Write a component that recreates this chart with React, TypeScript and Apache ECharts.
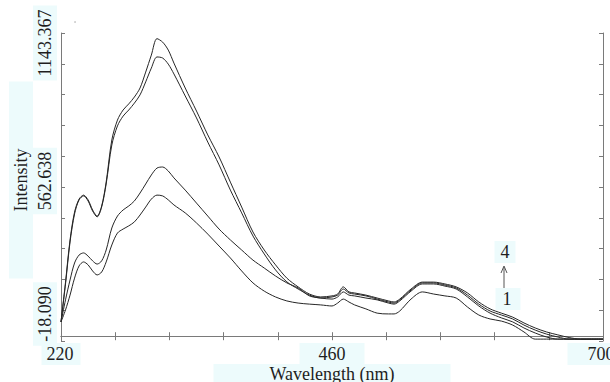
import React, { useEffect, useRef } from 'react';
import * as echarts from 'echarts';

// Wavelength grid (nm)
const wavelengths = [
  220, 224, 228, 232, 236, 240, 244, 248, 252, 256,
  260, 265, 270, 275, 280, 285, 290, 295, 300, 305,
  310, 315, 320, 330, 340, 350, 360, 370, 380, 390,
  400, 410, 420, 430, 440, 450, 460, 465, 470, 475,
  480, 490, 500, 510, 515, 520, 530, 540, 550, 560,
  570, 580, 590, 600, 610, 620, 630, 640, 650, 660,
  670, 680, 690, 700,
];

// Spectrum 1 (lowest)
const spectrum1 = [
  54, 99, 155, 219, 265, 280, 269, 246, 231, 242,
  280, 344, 389, 404, 416, 431, 457, 487, 517, 532,
  529, 514, 495, 465, 427, 385, 340, 295, 246, 201,
  170, 148, 133, 125, 121, 118, 114, 125, 140, 129,
  118, 103, 87, 84, 84, 95, 140, 167, 159, 152,
  144, 110, 80, 65, 57, 42, 16, -11, -11, -11,
  -11, -11, -11, -11,
];

// Spectrum 2
const spectrum2 = [
  54, 137, 212, 276, 306, 314, 302, 284, 272, 284,
  325, 408, 453, 476, 491, 510, 540, 574, 608, 634,
  638, 623, 597, 551, 502, 453, 404, 363, 325, 287,
  257, 227, 201, 182, 152, 144, 140, 148, 167, 155,
  152, 144, 137, 125, 121, 133, 170, 197, 197, 189,
  178, 148, 114, 87, 69, 54, 31, 12, -3, -11,
  -11, -11, -11, -11,
];

// Spectrum 3
const spectrum3 = [
  54, 197, 355, 461, 514, 529, 510, 472, 450, 487,
  574, 721, 793, 830, 853, 879, 910, 959, 1011, 1053,
  1049, 1026, 989, 906, 823, 732, 646, 551, 465, 378,
  310, 250, 205, 178, 155, 144, 148, 155, 178, 163,
  159, 152, 140, 129, 125, 137, 174, 201, 201, 193,
  182, 155, 121, 95, 80, 65, 42, 23, 8, -3,
  -11, -11, -11, -11,
];

// Spectrum 4 (highest)
const spectrum4 = [
  54, 204, 363, 468, 517, 532, 514, 476, 453, 491,
  581, 740, 815, 853, 876, 902, 936, 996, 1060, 1122,
  1109, 1079, 1030, 936, 849, 759, 676, 581, 487, 393,
  325, 269, 219, 186, 159, 148, 152, 159, 186, 167,
  163, 155, 144, 133, 129, 140, 178, 204, 204, 197,
  186, 163, 129, 103, 87, 72, 50, 31, 16, 5,
  -5, -11, -11, -11,
];

const xMin = 220;
const xMax = 700;
const xInterval = 48;
const xLabelValues = [220, 460, 700];
const xTickLabels = ['220', '460', '700'];

const yMin = -18.09;
const yMax = 1143.367;
const yTickLabels = ['-18.090', '562.638', '1143.367'];

const xName = 'Wavelength (nm)';
const yName = 'Intensity';
const arrowLabels = ['1', '4'];

const CYAN = '#edfbfc';
const FONT_FAMILY = '"Liberation Serif", "DejaVu Serif", serif';
const FONT = '18px ' + FONT_FAMILY;
const TEXT_COLOR = '#1e1e1e';
const AXIS_COLOR = '#7a7a7a';
const LINE_COLOR = '#262626';

export default function App() {
  const ref = useRef<HTMLDivElement>(null);

  useEffect(() => {
    document.body.style.margin = '0';
    const chart = echarts.init(ref.current as HTMLDivElement, null, { renderer: 'svg' });

    const series = [spectrum1, spectrum2, spectrum3, spectrum4].map((s, k) => ({
      type: 'line',
      name: 'S' + (k + 1),
      data: wavelengths.map((w, i) => [w, s[i]]),
      showSymbol: false,
      smooth: 0.3,
      lineStyle: { color: LINE_COLOR, width: 1 },
      xAxisIndex: 0,
      yAxisIndex: 0,
    }));

    const yInterval = (yMax - yMin) / 10;

    const tickStyle = { show: true, inside: true, length: 4, lineStyle: { color: AXIS_COLOR } };
    const lineStyle = { show: true, lineStyle: { color: AXIS_COLOR, width: 1 } };

    const ySlots = [314, 181, 43];

    const option: any = {
      animation: false,
      backgroundColor: '#ffffff',
      grid: { left: 61, right: 7, top: 33, bottom: 41, containLabel: false, outerBoundsMode: 'none' },
      xAxis: [
        {
          type: 'value',
          min: xMin,
          max: xMax,
          interval: xInterval,
          position: 'bottom',
          axisLine: lineStyle,
          axisTick: tickStyle,
          splitLine: { show: false },
          axisLabel: {
            margin: 2,
            color: TEXT_COLOR,
            fontSize: 18,
            fontFamily: FONT_FAMILY,
            hideOverlap: false,
            formatter: (v: number) => {
              const i = xLabelValues.indexOf(Math.round(v));
              return i < 0 ? '' : '{p' + i + '|' + xTickLabels[i] + '}';
            },
            rich: {
              p0: { backgroundColor: CYAN, padding: [2, 7, 2, 5], fontSize: 18, fontFamily: FONT_FAMILY, color: TEXT_COLOR },
              p1: { backgroundColor: CYAN, padding: [2, 19, 2, 19], fontSize: 18, fontFamily: FONT_FAMILY, color: TEXT_COLOR },
              p2: { backgroundColor: CYAN, padding: [2, 24, 2, 20], fontSize: 18, fontFamily: FONT_FAMILY, color: TEXT_COLOR },
            },
          },
          name: xName,
          nameLocation: 'middle',
          nameGap: 23,
          nameMoveOverlap: false,
          nameTextStyle: {
            color: TEXT_COLOR,
            fontSize: 18,
            fontFamily: FONT_FAMILY,
            backgroundColor: CYAN,
            padding: [1, 56, 1, 56],
          },
        },
        {
          type: 'value',
          min: xMin,
          max: xMax,
          interval: xInterval,
          position: 'top',
          axisLine: lineStyle,
          axisTick: tickStyle,
          splitLine: { show: false },
          axisLabel: { show: false },
        },
      ],
      yAxis: [
        {
          type: 'value',
          min: yMin,
          max: yMax,
          interval: yInterval,
          position: 'left',
          axisLine: lineStyle,
          axisTick: tickStyle,
          splitLine: { show: false },
          axisLabel: { show: false },
        },
        {
          type: 'value',
          min: yMin,
          max: yMax,
          interval: yInterval,
          position: 'right',
          axisLine: lineStyle,
          axisTick: tickStyle,
          splitLine: { show: false },
          axisLabel: { show: false },
        },
      ],
      series,
      graphic: [
        {
          type: 'text',
          x: 21,
          y: 180,
          rotation: Math.PI / 2,
          style: {
            text: yName,
            font: FONT,
            fill: TEXT_COLOR,
            align: 'center',
            verticalAlign: 'middle',
            backgroundColor: CYAN,
            padding: [3, 67, 3, 67],
          },
        },
        ...yTickLabels.map((t, i) => ({
          type: 'text',
          x: 45,
          y: ySlots[i],
          rotation: Math.PI / 2,
          style: {
            text: t,
            font: FONT,
            fill: TEXT_COLOR,
            align: 'center',
            verticalAlign: 'middle',
            backgroundColor: CYAN,
            padding: [3, 4, 3, 4],
          },
        })),
        {
          type: 'line',
          shape: { x1: 504, y1: 288, x2: 504, y2: 267 },
          style: { stroke: '#555', lineWidth: 1 },
        },
        {
          type: 'polyline',
          shape: { points: [[501, 273], [504, 266], [507, 273]] },
          style: { stroke: '#555', lineWidth: 1, fill: null },
        },
        {
          type: 'text',
          x: 505,
          y: 252,
          style: {
            text: arrowLabels[1],
            font: FONT,
            fill: TEXT_COLOR,
            align: 'center',
            verticalAlign: 'middle',
            backgroundColor: CYAN,
            padding: [2, 6, 2, 6],
          },
        },
        {
          type: 'text',
          x: 508,
          y: 299,
          style: {
            text: arrowLabels[0],
            font: FONT,
            fill: TEXT_COLOR,
            align: 'center',
            verticalAlign: 'middle',
            backgroundColor: CYAN,
            padding: [2, 9, 2, 7],
          },
        },
        {
          type: 'circle',
          shape: { cx: 75, cy: 22, r: 0.7 },
          style: { fill: '#999' },
        },
      ],
    };

    chart.setOption(option);
    return () => chart.dispose();
  }, []);

  return (
    <div
      ref={ref}
      style={{ position: 'absolute', left: 0, top: 0, width: 610, height: 382 }}
    />
  );
}
